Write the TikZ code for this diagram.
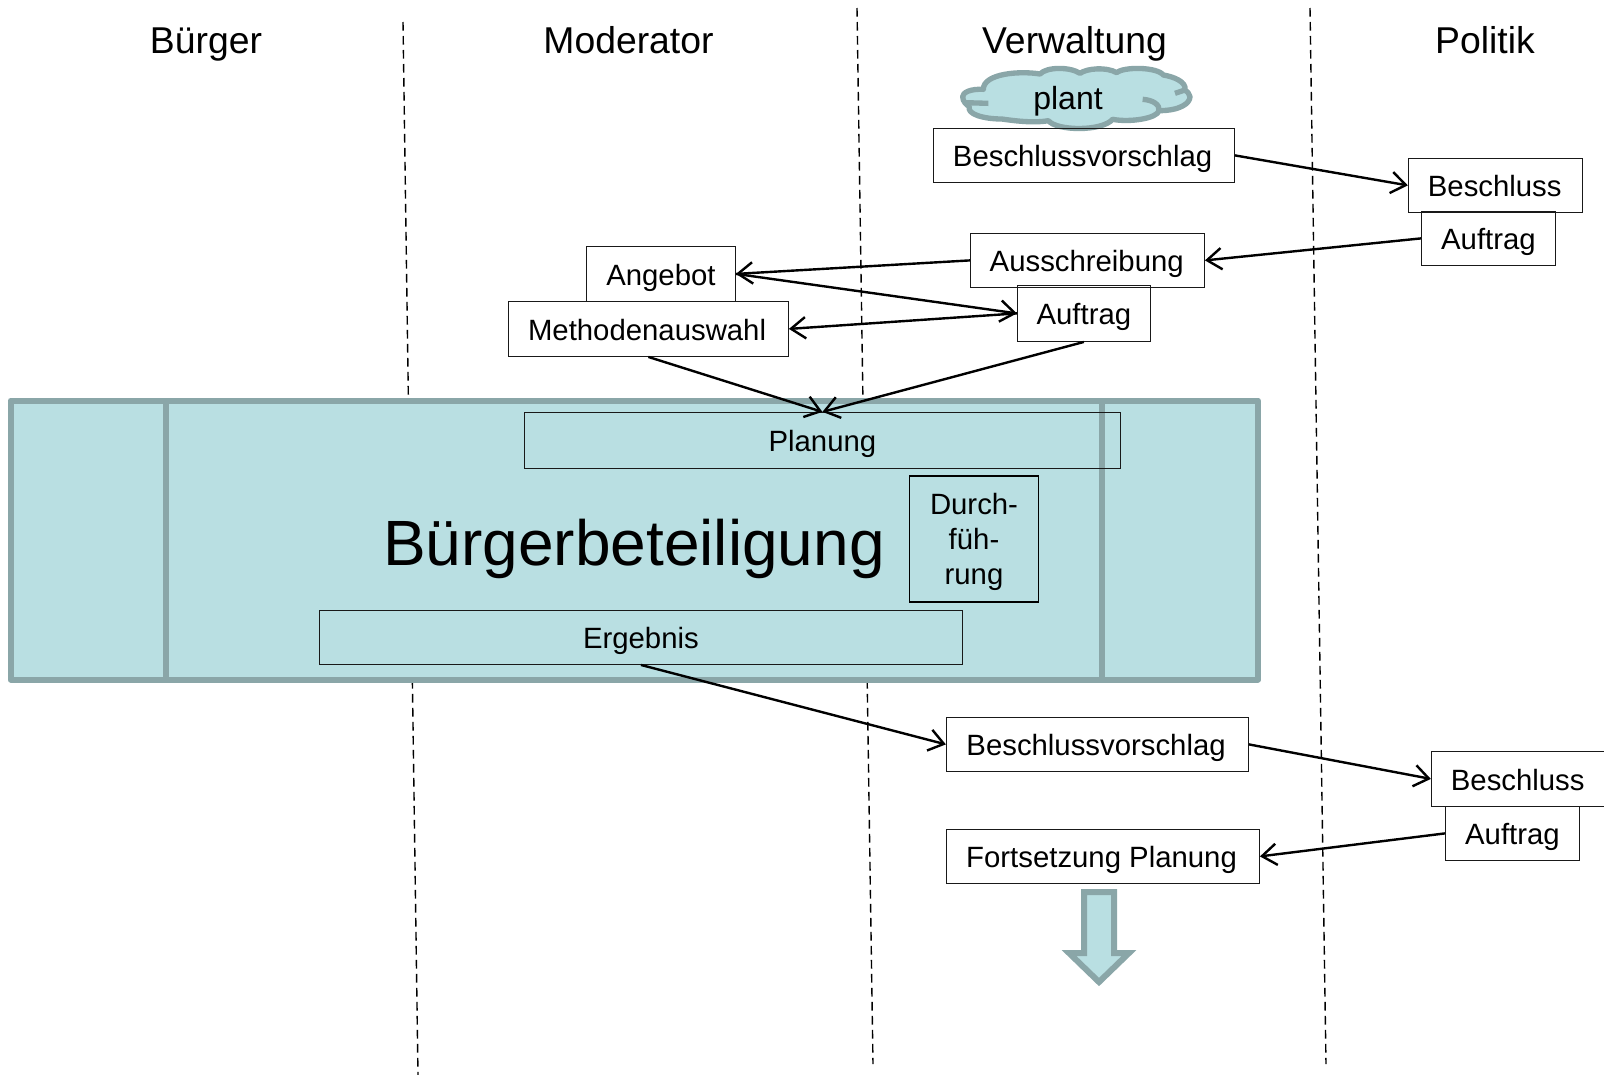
\documentclass[tikz,border=0pt]{standalone}
\usepackage{fontspec}
\setmainfont{Liberation Sans}
\usetikzlibrary{arrows.meta}
\definecolor{bandfill}{HTML}{B9DFE2}
\definecolor{bandline}{HTML}{8AA6A8}
\tikzset{
 x=0.75pt,y=-0.75pt,
 box/.style={draw=black!90,line width=0.8pt,inner sep=0pt,font=\fontsize{22}{26}\selectfont,text height=18.9pt,text depth=2.1pt},
 boxml/.style={draw=black,line width=1.3pt,inner sep=0pt},
 boxmltext/.style={inner sep=0pt,font=\fontsize{22}{26.2}\selectfont,align=center},
 head/.style={font=\fontsize{28}{32}\selectfont,inner sep=0pt,text height=20pt,text depth=6pt},
 sep/.style={dash pattern=on 6.5pt off 4pt,line width=1.05pt,black},
 conn/.style={-{Straight Barb[length=11pt,width=16pt,line width=1.8pt]},line width=1.8pt,shorten >=0pt},
 band/.style={draw=bandline,fill=bandfill,line width=4.5pt,line join=round},
 bandrule/.style={draw=bandline,line width=4.5pt},
}
\newcommand{\pxbox}[7][]{\pgfmathsetmacro\bw{(#5-#3)*0.75}\pgfmathsetmacro\bh{(#6-#4)*0.75}\node[box,minimum width=\bw pt,minimum height=\bh pt,#1] (#2) at ({(#3+#5)/2-0.6},{(#4+#6)/2-0.6}) {#7};}
\begin{document}
\begin{tikzpicture}
\useasboundingbox (0,0) rectangle (1604,1075);
% separators
\coordinate (s1a) at (403,22); \coordinate (s1b) at (418,1075);
\coordinate (s2a) at (857,8); \coordinate (s2b) at (873,1064);
\coordinate (s3a) at (1310,8); \coordinate (s3b) at (1326,1064);
\draw[sep] (s1a) -- (s1b);
\draw[sep] (s2a) -- (s2b);
\draw[sep] (s3a) -- (s3b);
% headers
\node[head] (hb) at (206,44) {Bürger};
\node[head] (hm) at (628.5,44) {Moderator};
\node[head] (hv) at (1074.5,44) {Verwaltung};
\node[head] (hp) at (1485,44) {Politik};
% band
\path[band] (10.5,400.5) rectangle (1258,679.5);
\path[bandrule] (166,400.5) -- (166,679.5);
\path[bandrule] (1102,400.5) -- (1102,679.5);
\node[inner sep=0pt,font=\fontsize{48}{52}\selectfont] (bb) at (634,549) {Bürgerbeteiligung};
% cloud
\begin{scope}[shift={(920,50)},x=0.25pt,y=-0.25pt]
\path[draw=bandline,fill=bandfill,line width=4pt,line join=round]
 (190,118) .. controls (150,116) and (128,128) .. (128,140)
 .. controls (128,155) and (140,165) .. (148,170)
 .. controls (140,192) and (190,207) .. (245,207)
 .. controls (280,212) and (340,220) .. (385,212)
 .. controls (410,243) and (545,245) .. (578,208)
 .. controls (630,218) and (712,205) .. (717,182)
 .. controls (780,182) and (810,160) .. (810,140)
 .. controls (810,130) and (800,125) .. (795,120)
 .. controls (800,95) and (760,80) .. (730,75)
 .. controls (710,50) and (610,50) .. (590,68)
 .. controls (560,50) and (500,55) .. (480,70)
 .. controls (450,50) and (380,50) .. (360,72)
 .. controls (300,62) and (190,70) .. (190,118) -- cycle;
\path[draw=bandline,line width=4pt]
 (135,158) -- (205,160)
 (668,148) .. controls (700,150) and (720,165) .. (717,182)
 (765,130) -- (795,120);
\end{scope}
\node[inner sep=0pt,font=\fontsize{24}{28}\selectfont,text height=18pt,text depth=5pt] (plant) at (1068,100.5) {plant};
% boxes
\pxbox{bv1}{934}{129}{1235}{183}{\hspace*{-2pt}Beschlussvorschlag}
\pxbox{be1}{1409}{159}{1583}{213}{\hspace*{-1pt}Beschluss}
\pxbox{au1}{1422}{212}{1556}{266}{Auftrag}
\pxbox{aus}{971}{234}{1205}{288}{\hspace*{-1pt}Ausschreibung}
\pxbox{ang}{587}{247}{736}{302}{Angebot}
\pxbox{met}{509}{302}{789}{357}{\hspace*{-2pt}Methodenauswahl}
\pxbox{au2}{1018}{286}{1151}{342}{Auftrag}
\pxbox{pla}{525}{413}{1121}{469}{Planung}
\node[boxml,minimum width=96.75pt,minimum height=94.5pt] (dur) at (974,538.8) {};
\node[boxmltext] (durt) at (974,542) {Durch-\\füh-\\rung};
\pxbox{erg}{320}{611}{963}{665}{Ergebnis}
\pxbox{bv2}{947}{718}{1249}{772}{\hspace*{-2pt}Beschlussvorschlag}
\pxbox{be2}{1432}{752}{1610}{807}{\hspace*{-4pt}Beschluss}
\pxbox{au3}{1446}{807}{1580}{861}{Auftrag}
\pxbox{for}{947}{830}{1260}{884}{\hspace*{-2pt}Fortsetzung Planung}
% connectors
\draw[conn] (bv1.east) -- (be1.west);
\draw[conn] (au1.west) -- (aus.east);
\draw[conn] (aus.west) -- (ang.east);
\draw[conn] (ang.east) -- (au2.west);
\draw[conn] (au2.west) -- (met.east);
\draw[conn] (met.south) -- (pla.north);
\draw[conn] (au2.south) -- (pla.north);
\draw[conn] (erg.south) -- (bv2.west);
\draw[conn] (bv2.east) -- (be2.west);
\draw[conn] (au3.west) -- (for.east);
% block arrow
\path[draw=bandline,fill=bandfill,line width=4.5pt,miter limit=10]
 (1084,892) -- (1114,892) -- (1114,953) -- (1129,953) -- (1099,982) -- (1069,953) -- (1084,953) -- cycle;
\end{tikzpicture}
\end{document}
